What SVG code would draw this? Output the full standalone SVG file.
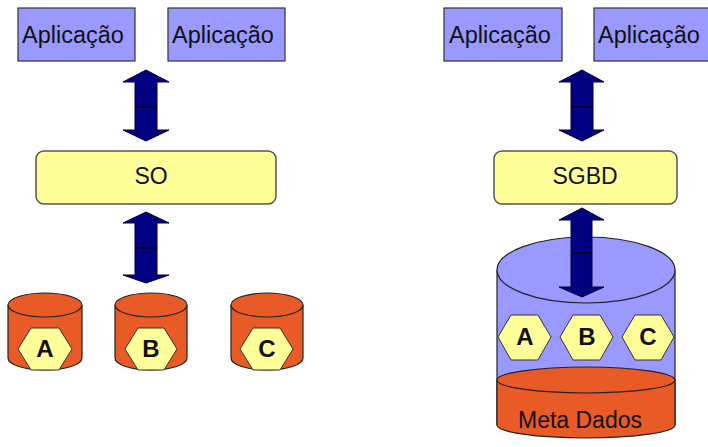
<svg xmlns="http://www.w3.org/2000/svg" width="708" height="447" viewBox="0 0 708 447">
<style>
.app{fill:#9999ff;stroke:#333;stroke-width:1.2}
.proc{fill:#ffff99;stroke:#555;stroke-width:1.5}
.org{fill:#e85a26;stroke:#222;stroke-width:1.2}
.blu{fill:#9999ff;stroke:#222;stroke-width:1.2}
.hex{fill:#ffff99;stroke:#333;stroke-width:1}
.arr{fill:#000080;stroke:#000033;stroke-width:1}
.t{font-family:"Liberation Sans",Arial,sans-serif;font-size:23px;fill:#111;text-anchor:middle}
.a{font-size:23.5px}
.b{font-family:"Liberation Sans",Arial,sans-serif;font-size:24px;font-weight:bold;fill:#111;text-anchor:middle}
</style>
<rect width="708" height="447" fill="#fff"/>
<g id="app1"><rect class="app" x="18" y="8" width="117" height="53"/><text class="t a" x="73" y="43">Aplicação</text></g>
<g id="app2"><rect class="app" x="168" y="8" width="117" height="53"/><text class="t a" x="223" y="43">Aplicação</text></g>
<g id="app3"><rect class="app" x="444" y="8" width="118" height="53"/><text class="t a" x="500" y="43">Aplicação</text></g>
<g id="app4"><rect class="app" x="594" y="8" width="118" height="53"/><text class="t a" x="649" y="43">Aplicação</text></g>
<g id="so"><rect class="proc" x="36" y="151" width="240" height="53" rx="8"/><text class="t" x="151" y="184">SO</text></g>
<g id="sgbd"><rect class="proc" x="494" y="151" width="183" height="53" rx="8"/><text class="t" x="585" y="184">SGBD</text></g>
<g id="discoA"><path class="org" d="M8,305 V358 A37,12 0 0 0 82,358 V305"/><ellipse class="org" cx="45" cy="305" rx="37" ry="12"/>
<polygon class="hex" points="18,349 31,328 59,328 72,349 59,370 31,370"/><text class="b" x="45" y="357">A</text></g>
<g id="discoB"><path class="org" d="M115,305 V358 A36,12 0 0 0 187,358 V305"/><ellipse class="org" cx="151" cy="305" rx="36" ry="12"/>
<polygon class="hex" points="125,349 138,328 164,328 177,349 164,370 138,370"/><text class="b" x="151" y="357">B</text></g>
<g id="discoC"><path class="org" d="M231,305 V358 A36,12 0 0 0 303,358 V305"/><ellipse class="org" cx="267" cy="305" rx="36" ry="12"/>
<polygon class="hex" points="240,349 253,328 280,328 293,349 280,370 253,370"/><text class="b" x="267" y="357">C</text></g>
<g id="bd">
<path class="blu" d="M497,270 V425 H675 V270"/><ellipse class="blu" cx="586" cy="270" rx="89" ry="33"/>
<path class="org" d="M497,380 V425 A89,13 0 0 0 675,425 V380"/><ellipse class="org" cx="586" cy="380" rx="89" ry="13"/>
<text class="t" x="580" y="428">Meta Dados</text>
</g>
<g id="hexA"><polygon class="hex" points="498,337 511,315 538,315 551,337 538,360 511,360"/><text class="b" x="525" y="345">A</text></g>
<g id="hexB"><polygon class="hex" points="560,337 573,315 600,315 613,337 600,360 573,360"/><text class="b" x="587" y="345">B</text></g>
<g id="hexC"><polygon class="hex" points="622,337 635,315 661,315 674,337 661,360 635,360"/><text class="b" x="648" y="345">C</text></g>
<g id="connectors">
<polygon class="arr" points="146,70 169,82 157,82 157,130 169,130 146,141 123,130 135,130 135,82 123,82"/><line x1="135" y1="107" x2="157" y2="107" stroke="#000" stroke-width="1.2"/>
<polygon class="arr" points="146,212 169,223 157,223 157,275 169,275 146,283 123,275 135,275 135,223 123,223"/><line x1="135" y1="248" x2="157" y2="248" stroke="#000" stroke-width="1.2"/>
<polygon class="arr" points="582,70 604,82 593,82 593,130 604,130 582,141 559,130 571,130 571,82 559,82"/><line x1="571" y1="107" x2="593" y2="107" stroke="#000" stroke-width="1.2"/>
<polygon class="arr" points="582,208 604,220 592,220 592,287 604,287 582,297 559,287 571,287 571,220 559,220"/><line x1="571" y1="253" x2="592" y2="253" stroke="#000" stroke-width="1.2"/>
</g>
</svg>
